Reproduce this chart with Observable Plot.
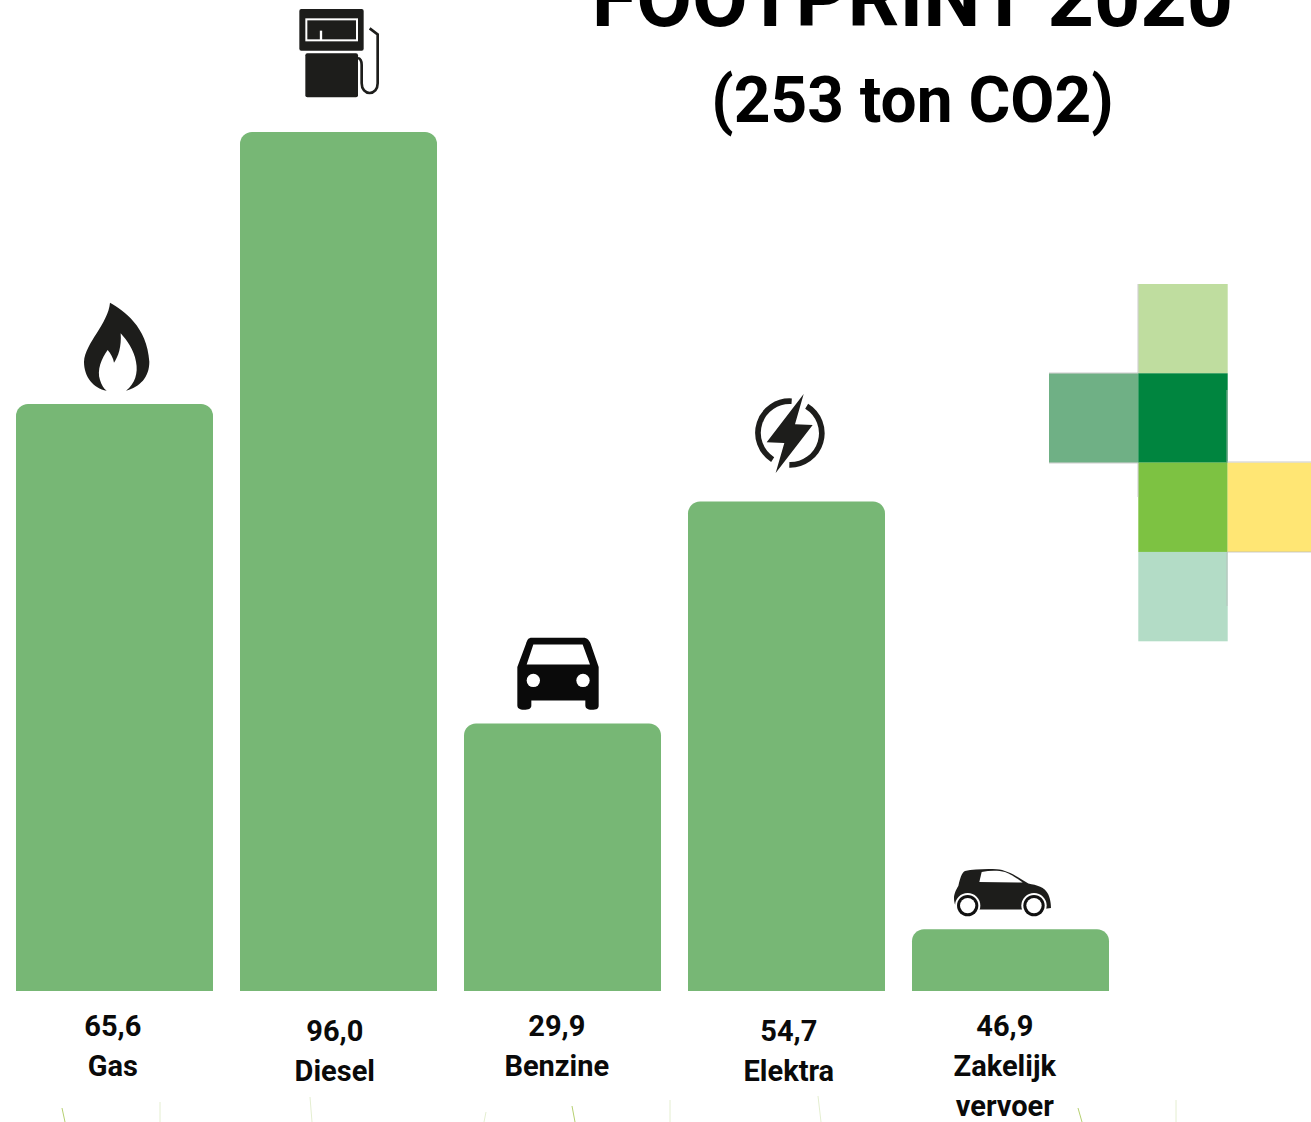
<!DOCTYPE html>
<html>
<head>
<meta charset="utf-8">
<style>
html,body{margin:0;padding:0;background:#fff;overflow:hidden}
svg{display:block}
</style>
<script src="https://cdn.jsdelivr.net/npm/d3@7"></script>
<script src="https://cdn.jsdelivr.net/npm/@observablehq/plot@0.6"></script>
</head>
<body>
<div id="chart"></div>
<script>
const categories = ["Gas", "Diesel", "Benzine", "Elektra", "Zakelijk vervoer"];
const values = [65.6, 96.0, 29.9, 54.7, 6.9];
const valueLabels = ["65,6", "96,0", "29,9", "54,7", "46,9"];
const nameLabels = ["Gas", "Diesel", "Benzine", "Elektra", "Zakelijk\nvervoer"];
const titleLines = ["FOOTPRINT 2020", "(253 ton CO2)"];

const rows = categories.map((c, i) => ({c, v: values[i], text: valueLabels[i] + "\n" + nameLabels[i]}));

/* layout */
const labelShiftX = [-2.2, -4.2, -6.2, 1.8, -6.2];
const labelShiftY = [0, 5, 0, 5, 0];
const font = "Roboto, sans-serif";
const ink = "#1d1d1b";

/* icons: drawn in 3x units, anchored on the top-left corner of their bar */
const icons = [
  {dx: 44, dy: -114, svg: `<path fill="${ink}" d="M150 38C190 60 262 110 268 215C268 262 240 290 198 302C225 280 235 250 228 215C222 180 200 150 182 130C185 170 175 200 162 218C160 205 152 190 143 180C125 205 110 240 120 270C125 285 130 295 140 302C100 295 72 260 72 215C75 160 145 100 150 38Z"/>`},
  {dx: 30, dy: -132, svg: `<rect x="88" y="27" width="193" height="125" rx="6" fill="${ink}"/><rect x="109" y="58" width="152" height="63" fill="none" stroke="#fff" stroke-width="6"/><path d="M153 120V92" stroke="#fff" stroke-width="7" fill="none"/><rect x="106" y="160" width="158" height="132" rx="6" fill="${ink}"/><path d="M299 85L323 103V250C323 268 312 279 299 279C286 279 275 268 275 250V195C275 183 272 176 264 174" fill="none" stroke="${ink}" stroke-width="8"/>`},
  {dx: 36, dy: -103, svg: `<path fill="#0a0a0a" fill-rule="evenodd" d="M95 52H250C262 52 268 60 272 70L296 140V255C296 265 290 268 275 268C262 268 256 262 256 255V240H94V255C94 265 85 268 72 268C58 268 52 262 52 255V140L78 70C82 58 85 52 95 52ZM100 72L80 132H270L248 72Z"/><circle cx="100" cy="180" r="20" fill="#fff"/><circle cx="249" cy="180" r="20" fill="#fff"/>`},
  {dx: 52, dy: -116, svg: `<path fill="${ink}" d="M191 25L80 170L133 172L107 262L218 118L165 116Z"/><path fill="none" stroke="${ink}" stroke-width="17" d="M155 47A95 95 0 0 0 98 222M200 62A95 95 0 0 1 148 238"/>`},
  {dx: 28, dy: -74, svg: `<path fill="${ink}" d="M42 128C42 115 50 100 55 92C60 70 65 52 75 47C100 42 140 40 170 42C205 44 240 70 265 85C290 90 315 95 325 118C332 135 333 150 333 158L300 163H60L46 150C43 142 42 135 42 128Z"/><path fill="#fff" d="M125 50C150 45 175 45 195 50C215 58 235 72 248 82L118 80Z"/><g><circle cx="83" cy="151" r="38" fill="#fff"/><circle cx="83" cy="151" r="32" fill="#111"/><circle cx="83" cy="151" r="23" fill="#fff"/><circle cx="282" cy="151" r="38" fill="#fff"/><circle cx="282" cy="151" r="32" fill="#111"/><circle cx="282" cy="151" r="23" fill="#fff"/></g>`}
];

function iconMark(index, scales) {
  const g = d3.create("svg:g");
  categories.forEach((c, i) => {
    const ic = icons[i];
    g.append("g")
      .attr("transform", `translate(${scales.x(c) + ic.dx},${scales.y(values[i]) + ic.dy}) scale(${1 / 3})`)
      .html(ic.svg);
  });
  return g.node();
}

/* logo cross and the stray image fragments at the foot */
const logoColors = ["#bfdd9f", "#6fb085", "#00853f", "#7dc242", "#ffe674", "#b3dcc6"];
const logoCols = [1, 0, 1, 1, 2, 1];
const logoRows = [0, 1, 1, 2, 2, 3];
const slivers = [[62,1108,65,1122,"#b5cf70"],[160,1102,160,1122,"#e4eed0"],[310,1097,312,1122,"#e4eed0"],[486,1112,484,1122,"#e4eed0"],[572,1106,575,1122,"#b5cf70"],[670,1100,670,1122,"#e4eed0"],[818,1096,821,1122,"#e4eed0"],[1078,1108,1082,1122,"#b5cf70"],[1176,1100,1176,1122,"#e4eed0"]];

function logoMark() {
  const g = d3.create("svg:g");
  logoColors.forEach((col, i) => {
    g.append("rect")
      .attr("x", 1049 + logoCols[i] * 89.3).attr("y", 284 + logoRows[i] * 89.3)
      .attr("width", 89.4).attr("height", 89.4).attr("fill", col);
  });
  g.append("path").attr("d", "M1138 284V373M1049 373H1138M1049 463H1138M1138 463V497M1227 390V462M1227 462H1311M1227 552H1311M1227 552V606")
    .attr("stroke", "#b9b9b9").attr("stroke-width", 1).attr("fill", "none").attr("opacity", .75);
  slivers.forEach(s => g.append("line").attr("x1", s[0]).attr("y1", s[1]).attr("x2", s[2]).attr("y2", s[3]).attr("stroke", s[4]).attr("stroke-width", 1));
  return g.node();
}

const labelMarks = rows.map((r, i) => Plot.text([r], {
  x: "c", y: () => 0, text: "text",
  dx: labelShiftX[i], dy: 16 + labelShiftY[i],
  lineAnchor: "top", lineHeight: 40 / 29,
  fontFamily: font, fontWeight: 700, fontSize: 29, fill: "#0a0a0a", textAnchor: "middle"
}));

const chart = Plot.plot({
  width: 1311, height: 1122,
  margin: 0,
  style: {background: "#fff", overflow: "hidden"},
  x: {domain: categories, range: [16, 1109], paddingInner: 27 / 224, paddingOuter: 0, round: false, axis: null},
  y: {domain: [0, 96], range: [991, 132], axis: null},
  marks: [
    Plot.barY(rows, {x: "c", y: "v", fill: "#77b775", ry1: 12}),
    ...labelMarks,
    iconMark,
    logoMark,
    Plot.text([titleLines[0]], {frameAnchor: "top", dx: 256.5, dy: 25, lineAnchor: "bottom", fontFamily: font, fontWeight: 700, fontSize: 81, fill: "#000", textAnchor: "middle"}),
    Plot.text([titleLines[1]], {frameAnchor: "top", dx: 256.5, dy: 121, lineAnchor: "bottom", fontFamily: font, fontWeight: 700, fontSize: 64, fill: "#000", textAnchor: "middle"})
  ]
});
document.getElementById("chart").append(chart);
</script>
</body>
</html>
